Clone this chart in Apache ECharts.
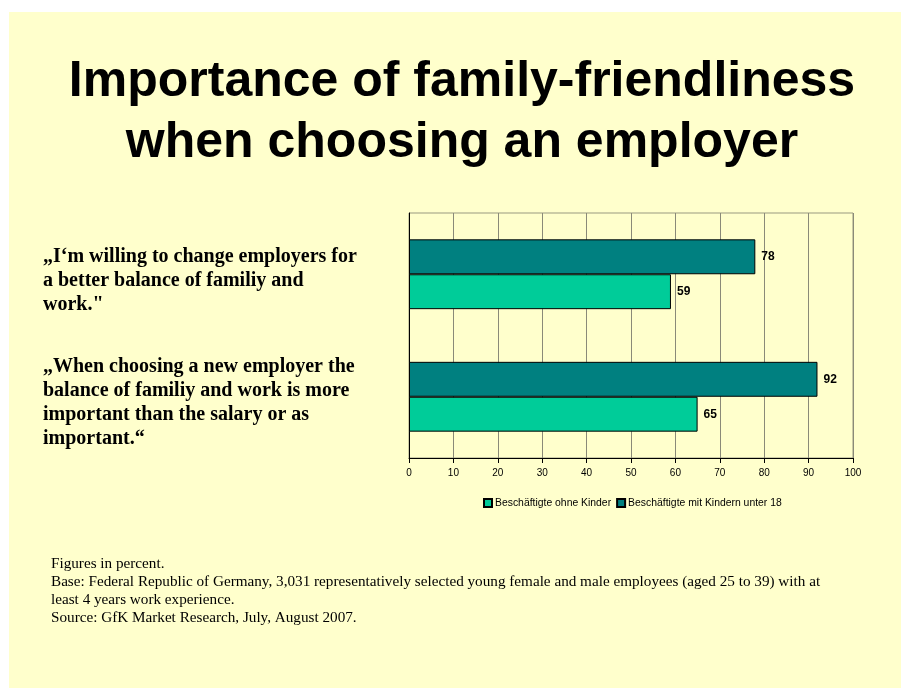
<!DOCTYPE html>
<html>
<head>
<meta charset="utf-8">
<script src="https://cdn.jsdelivr.net/npm/echarts@6/dist/echarts.min.js"></script>
<style>html,body{margin:0;padding:0;background:#fff;}#c{width:901px;height:691px;}</style>
</head>
<body>
<div id="c"></div>
<script>
var categories = ['willing to change', 'more important'];
var seriesNames = ['Beschäftigte ohne Kinder', 'Beschäftigte mit Kindern unter 18'];
var withKids = [78, 92];
var withoutKids = [59, 65];
var xTicks = {min: 0, max: 100, interval: 10};
var titleText = 'Importance of family-friendliness\nwhen choosing an employer';
var quote1 = '\u201EI\u2018m willing to change employers for\na better balance of familiy and\nwork."';
var quote2 = '\u201EWhen choosing a new employer the\nbalance of familiy and work is more\nimportant than the salary or as\nimportant.\u201C';
var footnote = 'Figures in percent.\nBase: Federal Republic of Germany, 3,031 representatively selected young female and male employees (aged 25 to 39) with at\nleast 4 years work experience.\nSource: GfK Market Research, July, August 2007.';

var chart = echarts.init(document.getElementById('c'), null, {renderer: 'canvas'});
var option = {
  backgroundColor: '#ffffff',
  animation: false,
  graphic: [
    {type: 'rect', z: -10, shape: {x: 9, y: 12, width: 892, height: 676}, style: {fill: '#FFFFCC'}},
    {type: 'text', x: 462, y: 52, z: 10,
      style: {text: titleText, font: 'bold 50px "Liberation Sans", Arial, sans-serif', fill: '#000', align: 'center', lineHeight: 61}},
    {type: 'text', x: 43, y: 245, z: 10,
      style: {text: quote1, font: 'bold 20px "Liberation Serif", "Times New Roman", serif', fill: '#000', lineHeight: 24}},
    {type: 'text', x: 43, y: 355, z: 10,
      style: {text: quote2, font: 'bold 20px "Liberation Serif", "Times New Roman", serif', fill: '#000', lineHeight: 24}},
    {type: 'text', x: 51, y: 555, z: 10,
      style: {text: footnote, font: '15.2px "Liberation Serif", "Times New Roman", serif', fill: '#000', lineHeight: 18}}
  ],
  grid: {left: 409, top: 213, width: 444, height: 245, show: true, borderColor: '#999980', borderWidth: 1, backgroundColor: 'transparent'},
  legend: {
    data: seriesNames,
    top: 493, left: 478,
    itemWidth: 8, itemHeight: 8, itemGap: 5,
    icon: 'rect',
    textStyle: {fontSize: 10.4, color: '#000', fontFamily: '"Liberation Sans", Arial, sans-serif', padding: [0, 0, 0, -2]}
  },
  xAxis: {
    type: 'value', min: xTicks.min, max: xTicks.max, interval: xTicks.interval,
    axisLine: {show: true, lineStyle: {color: '#000', width: 1}},
    axisTick: {show: true, length: 5, lineStyle: {color: '#000'}},
    axisLabel: {fontSize: 10, color: '#000', margin: 10, fontFamily: '"Liberation Sans", Arial, sans-serif'},
    splitLine: {show: true, lineStyle: {color: '#8a8a78', width: 1}}
  },
  yAxis: {
    type: 'category', data: categories, inverse: true,
    axisLine: {show: true, lineStyle: {color: '#000', width: 1}},
    axisTick: {show: false},
    axisLabel: {show: false},
    splitLine: {show: false}
  },
  series: [
    {
      name: seriesNames[1], type: 'bar', data: withKids,
      barGap: '0%', barCategoryGap: '43%',
      itemStyle: {color: '#008080', borderColor: '#000', borderWidth: 1},
      label: {show: true, position: 'right', distance: 6, color: '#000', fontWeight: 'bold', fontSize: 12, fontFamily: '"Liberation Sans", Arial, sans-serif'}
    },
    {
      name: seriesNames[0], type: 'bar', data: withoutKids,
      barGap: '0%', barCategoryGap: '43%',
      itemStyle: {color: '#00CC99', borderColor: '#000', borderWidth: 1},
      label: {show: true, position: 'right', distance: 6, color: '#000', fontWeight: 'bold', fontSize: 12, fontFamily: '"Liberation Sans", Arial, sans-serif'}
    }
  ]
};
chart.setOption(option);
</script>
</body>
</html>
